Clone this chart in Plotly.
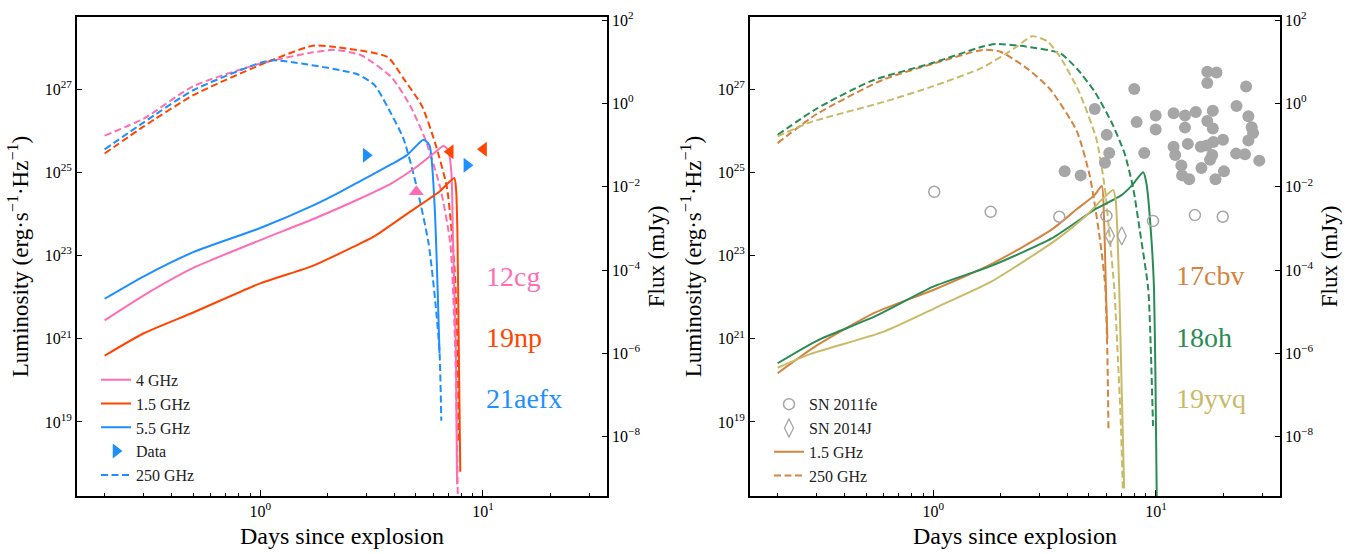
import numpy as np
import plotly.graph_objects as go

# ===================== LEFT PANEL DATA =====================
# SN 2012cg, 4 GHz (solid) and 250 GHz (dashed)
days_12cg_4ghz = [0.2, 0.3, 0.5, 1.0, 1.72, 2.84, 3.9, 5.1, 6.0, 6.65, 6.95, 7.21, 7.33, 7.46, 7.56, 7.65]
lum_12cg_4ghz = [2.75e21, 1.10e22, 5.01e22, 2.34e23, 7.41e23, 2.40e24, 5.50e24, 1.41e25, 2.82e25,
                 4.27e25, 3.55e25, 1.05e25, 2.82e23, 7.59e21, 5.01e20, 3.16e17]
days_12cg_250ghz = [0.2, 0.3, 0.5, 1.0, 1.72, 2.16, 2.84, 3.9, 4.72, 5.5, 6.43, 7.13, 7.51, 7.65, 7.72]
lum_12cg_250ghz = [7.59e25, 1.95e26, 1.17e27, 4.07e27, 7.59e27, 8.71e27, 6.46e27, 1.86e27, 3.89e26,
                   6.31e25, 4.27e24, 1.95e23, 5.01e20, 3.16e18, 1.0e17]

# SN 2019np, 1.5 GHz (solid) and 250 GHz (dashed)
days_19np_15ghz = [0.2, 0.3, 0.5, 1.0, 1.72, 2.6, 3.23, 4.56, 6.43, 7.43, 7.58, 7.68, 7.76, 7.84, 7.91]
lum_19np_15ghz = [3.89e20, 1.35e21, 4.27e21, 2.14e22, 5.62e22, 1.58e23, 2.82e23, 1.0e24, 3.55e24,
                  7.24e24, 3.55e24, 3.16e23, 3.16e21, 3.16e19, 6.31e17]
days_19np_250ghz = [0.2, 0.3, 0.5, 1.0, 1.72, 2.07, 3.72, 4.4, 5.32, 6.1, 6.89, 7.46, 7.69, 7.8]
lum_19np_250ghz = [2.82e25, 1.26e26, 7.08e26, 3.80e27, 1.10e28, 1.05e28, 5.89e27, 1.78e27, 3.89e26,
                   5.01e25, 4.27e24, 4.68e22, 5.01e20, 3.16e18]

# SN 2021aefx, 5.5 GHz (solid) and 250 GHz (dashed)
days_21aefx_55ghz = [0.2, 0.3, 0.5, 1.0, 1.72, 2.29, 2.84, 3.9, 4.56, 5.41, 5.75, 6.06, 6.38]
lum_21aefx_55ghz = [9.12e21, 3.16e22, 1.20e23, 4.57e23, 1.58e24, 3.39e24, 6.31e24, 1.58e25, 2.57e25,
                    6.03e25, 4.47e25, 1.74e24, 4.47e20]
days_21aefx_250ghz = [0.2, 0.3, 0.5, 1.0, 1.15, 2.71, 3.25, 3.71, 4.4, 5.05, 5.7, 6.11, 6.38, 6.5]
lum_21aefx_250ghz = [3.55e25, 1.58e26, 9.33e26, 4.27e27, 4.90e27, 2.29e27, 1.26e27, 3.89e26, 6.31e25,
                     4.27e24, 1.95e23, 7.59e21, 5.01e20, 1.07e19]

# Observed limits (left panel)
days_data_21aefx = [2.99, 8.47]
lum_data_21aefx = [2.57e25, 1.48e25]
days_data_19np = [7.13, 10.06]
lum_data_19np = [3.09e25, 3.55e25]
days_data_12cg = [5.02]
lum_data_12cg = [3.39e24]

# ===================== RIGHT PANEL DATA =====================
days_17cbv_15ghz = [0.2, 0.3, 0.55, 1.0, 1.82, 3.4, 4.43, 5.3, 5.71, 5.85, 5.96, 6.05]
lum_17cbv_15ghz = [1.48e20, 6.92e20, 4.27e21, 1.48e22, 6.17e22, 4.17e23, 1.32e24, 2.82e24, 4.68e24,
                   6.31e23, 1.58e22, 1.0e21]
days_17cbv_250ghz = [0.2, 0.3, 0.6, 1.0, 1.67, 1.99, 2.6, 3.34, 4.4, 5.05, 5.6, 5.92, 6.05, 6.12]
lum_17cbv_250ghz = [5.01e25, 2.51e26, 1.70e27, 4.07e27, 8.71e27, 7.94e27, 3.31e27, 1.0e27, 1.0e26,
                    7.94e24, 2.51e23, 1.78e22, 4.27e20, 6.31e18]

days_18oh_15ghz = [0.2, 0.3, 0.55, 1.0, 1.82, 3.4, 5.3, 6.0, 7.0, 7.73, 8.77, 9.08, 9.57, 9.8, 9.95, 10.09]
lum_18oh_15ghz = [2.57e20, 8.91e20, 3.47e21, 1.78e22, 5.62e22, 2.57e23, 1.26e24, 1.78e24, 2.82e24,
                  4.57e24, 1.0e25, 5.01e24, 1.95e23, 1.58e22, 1.0e20, 1.0e17]
days_18oh_250ghz = [0.2, 0.3, 0.525, 1.0, 1.67, 1.91, 2.6, 3.71, 4.43, 5.3, 6.33, 7.23, 7.9, 8.45, 9.23, 9.5, 9.7]
lum_18oh_250ghz = [7.94e25, 3.39e26, 1.55e27, 4.27e27, 1.05e28, 1.20e28, 1.05e28, 7.24e27, 3.02e27,
                   8.71e26, 1.55e26, 2.82e25, 4.17e24, 4.17e23, 1.58e22, 3.98e20, 7.94e18]

days_19yvq_15ghz = [0.2, 0.28, 0.6, 1.07, 1.82, 3.55, 4.84, 5.66, 6.43, 6.6, 6.84, 7.0, 7.2]
lum_19yvq_15ghz = [2.0e20, 4.27e20, 1.48e21, 6.17e21, 2.34e22, 2.34e23, 8.91e23, 2.09e24, 3.72e24,
                   2.0e24, 1.58e22, 1.0e20, 2.51e17]
days_19yvq_250ghz = [0.2, 0.28, 0.6, 1.0, 1.67, 2.38, 2.78, 3.25, 3.71, 4.5, 5.4, 5.9, 6.22, 6.5, 6.75, 6.95, 7.1]
lum_19yvq_250ghz = [7.24e25, 1.58e26, 4.90e26, 1.17e27, 3.31e27, 1.05e28, 1.86e28, 1.41e28, 5.89e27,
                    8.91e26, 6.31e25, 3.98e24, 2.24e23, 1.58e22, 3.16e20, 1.0e19, 2.51e17]

# SN 2011fe and SN 2014J limits
days_11fe = [1.01, 1.81, 3.68, 5.99, 9.7, 14.96, 19.95]
lum_11fe = [3.39e24, 1.12e24, 8.51e23, 8.91e23, 6.76e23, 9.33e23, 8.51e23]
days_14J = [6.21, 7.02]
lum_14J = [2.95e23, 2.95e23]

# Other SNe Ia limits (grey filled)
days_other = [3.89, 4.59, 5.31, 6.01, 6.17, 5.90, 7.99, 8.19, 8.86, 9.97, 9.97, 12.0, 13.5, 15.1, 13.5,
              12.0, 12.2, 13.0, 13.1, 14.1, 13.9, 15.9, 16.0, 17.0, 18.7, 17.0, 17.0, 18.0, 18.0, 16.9,
              18.1, 20.0, 17.9, 17.5, 20.2, 18.5, 23.0, 25.4, 26.0, 26.9, 27.3, 26.0, 22.9, 25.1, 29.1]
lum_other = [1.05e25, 8.4e24, 3.3e26, 7.9e25, 2.9e25, 1.7e25, 1.0e27, 1.6e26, 2.9e25, 2.3e26, 1.07e26,
             2.6e26, 2.3e26, 2.8e26, 1.18e26, 4.1e25, 2.6e25, 1.45e25, 8.4e24, 6.8e24, 4.8e25, 4.1e25,
             1.26e25, 2.6e27, 2.5e27, 1.4e27, 1.7e26, 3.0e26, 1.13e26, 4.4e25, 5.3e25, 6.0e25, 2.6e25,
             2.0e25, 1.05e25, 6.8e24, 3.9e26, 1.15e27, 2.2e26, 1.2e26, 8.8e25, 5.8e25, 2.8e25, 2.7e25,
             1.9e25]

THRESHOLD_LUM = 1e27
# log10(L / F[mJy]) for the assumed distance
LUM_TO_FLUX_LOG = 26.65

y_tickvals = [1e19, 1e21, 1e23, 1e25, 1e27]
y_ticktext = ['10<sup>19</sup>', '10<sup>21</sup>', '10<sup>23</sup>', '10<sup>25</sup>', '10<sup>27</sup>']
flux_tickvals = [1e-8, 1e-6, 1e-4, 1e-2, 1e0, 1e2]
flux_ticktext = ['10<sup>\u22128</sup>', '10<sup>\u22126</sup>', '10<sup>\u22124</sup>',
                 '10<sup>\u22122</sup>', '10<sup>0</sup>', '10<sup>2</sup>']
x_tickvals = [1, 10]
x_ticktext = ['10<sup>0</sup>', '10<sup>1</sup>']
x_minor = [0.2, 0.3, 0.4, 0.5, 0.6, 0.7, 0.8, 0.9, 2, 3, 4, 5, 6, 7, 8, 9, 20, 30]

# colours
C_12CG = '#FF6EB4'
C_19NP = '#FF4500'
C_21AEFX = '#1E8FFF'
C_17CBV = '#D4843E'
C_18OH = '#2A8C55'
C_19YVQ = '#C9BA68'
C_GREY = '#A6A6A6'

FONT = "'Liberation Serif', 'Times New Roman', Times, serif"
LW = 2.0
DASH = '7px,3.5px'

fig = go.Figure()


def line(x, y, color, dash, xa, ya, name=None, legend='legend', rank=1000, show=False):
    fig.add_trace(go.Scatter(
        x=x, y=y, mode='lines', xaxis=xa, yaxis=ya,
        line=dict(color=color, width=LW, dash=DASH if dash else 'solid', shape='spline', smoothing=0.6),
        name=name, showlegend=show, legend=legend, legendrank=rank, hoverinfo='skip'))


# ---- left panel ----
line(days_12cg_250ghz, lum_12cg_250ghz, C_12CG, True, 'x', 'y')
line(days_19np_250ghz, lum_19np_250ghz, C_19NP, True, 'x', 'y')
line(days_21aefx_250ghz, lum_21aefx_250ghz, C_21AEFX, True, 'x', 'y', '250 GHz', 'legend', 5, True)
line(days_21aefx_55ghz, lum_21aefx_55ghz, C_21AEFX, False, 'x', 'y', '5.5 GHz', 'legend', 3, True)
line(days_12cg_4ghz, lum_12cg_4ghz, C_12CG, False, 'x', 'y', '4 GHz', 'legend', 1, True)
line(days_19np_15ghz, lum_19np_15ghz, C_19NP, False, 'x', 'y', '1.5 GHz', 'legend', 2, True)

fig.add_trace(go.Scatter(x=days_data_21aefx, y=lum_data_21aefx, mode='markers', xaxis='x', yaxis='y',
                         marker=dict(symbol='triangle-right', size=13, color=C_21AEFX),
                         name='Data', showlegend=True, legend='legend', legendrank=4, hoverinfo='skip'))
fig.add_trace(go.Scatter(x=days_data_19np, y=lum_data_19np, mode='markers', xaxis='x', yaxis='y',
                         marker=dict(symbol='triangle-left', size=13, color=C_19NP),
                         showlegend=False, hoverinfo='skip'))
fig.add_trace(go.Scatter(x=days_data_12cg, y=lum_data_12cg, mode='markers', xaxis='x', yaxis='y',
                         marker=dict(symbol='triangle-up', size=13, color=C_12CG),
                         showlegend=False, hoverinfo='skip'))

# ---- right panel ----
line(days_17cbv_250ghz, lum_17cbv_250ghz, C_17CBV, True, 'x2', 'y3', '250 GHz', 'legend2', 4, True)
line(days_18oh_250ghz, lum_18oh_250ghz, C_18OH, True, 'x2', 'y3')
line(days_19yvq_250ghz, lum_19yvq_250ghz, C_19YVQ, True, 'x2', 'y3')
line(days_17cbv_15ghz, lum_17cbv_15ghz, C_17CBV, False, 'x2', 'y3', '1.5 GHz', 'legend2', 3, True)
line(days_18oh_15ghz, lum_18oh_15ghz, C_18OH, False, 'x2', 'y3')
line(days_19yvq_15ghz, lum_19yvq_15ghz, C_19YVQ, False, 'x2', 'y3')

fig.add_trace(go.Scatter(x=days_other, y=lum_other, mode='markers', xaxis='x2', yaxis='y3',
                         marker=dict(symbol='circle', size=12, color=C_GREY),
                         showlegend=False, hoverinfo='skip'))
fig.add_trace(go.Scatter(x=days_11fe, y=lum_11fe, mode='markers', xaxis='x2', yaxis='y3',
                         marker=dict(symbol='circle-open', size=11, color=C_GREY, line=dict(width=1.5)),
                         name='SN 2011fe', showlegend=True, legend='legend2', legendrank=1, hoverinfo='skip'))
fig.add_trace(go.Scatter(x=days_14J, y=lum_14J, mode='markers', xaxis='x2', yaxis='y3',
                         marker=dict(symbol='diamond-tall-open', size=13, color=C_GREY, line=dict(width=1.3)),
                         name='SN 2014J', showlegend=True, legend='legend2', legendrank=2, hoverinfo='skip'))

# empty traces so the flux axes are drawn
fig.add_trace(go.Scatter(x=[], y=[], xaxis='x', yaxis='y2', showlegend=False, hoverinfo='skip'))
fig.add_trace(go.Scatter(x=[], y=[], xaxis='x2', yaxis='y4', showlegend=False, hoverinfo='skip'))

W, H = 1357, 554
ML, MR, MT, MB = 77, 77, 9, 56
PW = W - ML - MR
left_dom = [0, 530 / PW]
right_dom = [(750 - ML) / PW, 1]

LUM_RANGE = [17.22, 28.73]
FLUX_RANGE = [LUM_RANGE[0] - LUM_TO_FLUX_LOG, LUM_RANGE[1] - LUM_TO_FLUX_LOG]
X_RANGE = [-0.823, 1.557]

tickfont = dict(family=FONT, size=16, color='black')
titlefont = dict(family=FONT, size=24, color='black')
ytitlefont = dict(family=FONT, size=23, color='black')


def xaxis(dom, anchor):
    return dict(domain=dom, anchor=anchor, type='log', range=X_RANGE,
                tickmode='array', tickvals=x_tickvals, ticktext=x_ticktext,
                ticks='inside', ticklen=6, tickwidth=1.3, tickcolor='black',
                minor=dict(tickmode='array', tickvals=x_minor, ticks='inside', ticklen=3,
                           tickwidth=1, tickcolor='black', showgrid=False),
                showline=True, linecolor='black', linewidth=1.8, mirror=True,
                showgrid=False, zeroline=False, tickfont=tickfont,
                title=dict(text='Days since explosion', font=titlefont, standoff=8))


def yaxis(anchor):
    return dict(domain=[0, 1], anchor=anchor, type='log', range=LUM_RANGE,
                tickmode='array', tickvals=y_tickvals, ticktext=y_ticktext,
                ticks='inside', ticklen=5, tickwidth=1.3, tickcolor='black',
                showline=True, linecolor='black', linewidth=1.8, mirror=False,
                showgrid=False, zeroline=False, tickfont=tickfont,
                title=dict(text='Luminosity (erg\u00b7s<sup>\u22121</sup>\u00b7Hz<sup>\u22121</sup>)',
                           font=ytitlefont, standoff=10))


def faxis(over, anchor):
    return dict(overlaying=over, anchor=anchor, side='right', type='log', range=FLUX_RANGE,
                tickmode='array', tickvals=flux_tickvals, ticktext=flux_ticktext,
                ticks='inside', ticklen=5, tickwidth=1.3, tickcolor='black',
                showline=True, linecolor='black', linewidth=1.8,
                showgrid=False, zeroline=False, tickfont=tickfont,
                title=dict(text='Flux (mJy)', font=ytitlefont, standoff=8))


fig.update_layout(
    width=W, height=H, autosize=False,
    margin=dict(l=ML, r=MR, t=MT, b=MB, pad=0),
    paper_bgcolor='white', plot_bgcolor='white',
    font=dict(family=FONT, color='black'),
    xaxis=xaxis(left_dom, 'y'),
    yaxis=yaxis('x'),
    yaxis2=faxis('y', 'x'),
    xaxis2=xaxis(right_dom, 'y3'),
    yaxis3=yaxis('x2'),
    yaxis4=faxis('y3', 'x2'),
    legend=dict(x=(96 - ML) / PW, y=1 - (362 - MT) / (H - MT - MB), xanchor='left', yanchor='top',
                bgcolor='rgba(0,0,0,0)', font=dict(family=FONT, size=16, color='#222'),
                tracegroupgap=0, itemsizing='trace'),
    legend2=dict(x=(769 - ML) / PW, y=1 - (387 - MT) / (H - MT - MB), xanchor='left', yanchor='top',
                 bgcolor='rgba(0,0,0,0)', font=dict(family=FONT, size=16, color='#222'),
                 tracegroupgap=0, itemsizing='trace'),
    showlegend=True,
)

# horizontal dotted threshold line at L = 1e27 in each panel
for xr, yr in (('x domain', 'y'), ('x2 domain', 'y3')):
    fig.add_shape(type='line', xref=xr, yref=yr, x0=0, x1=1,
                  y0=np.log10(THRESHOLD_LUM), y1=np.log10(THRESHOLD_LUM),
                  line=dict(color='black', width=2.5, dash='2.5px,3.5px'))

# SN labels
labels_left = [('12cg', C_12CG, 0.4574), ('19np', C_19NP, 0.3299), ('21aefx', C_21AEFX, 0.2033)]
for txt, col, yy in labels_left:
    fig.add_annotation(xref='x domain', yref='y domain', x=(484 - 76.7) / 530, y=yy, text=txt,
                       showarrow=False, xanchor='left', yanchor='middle',
                       font=dict(family=FONT, size=28, color=col))
labels_right = [('17cbv', C_17CBV, 0.4594), ('18oh', C_18OH, 0.3299), ('19yvq', C_19YVQ, 0.2033)]
for txt, col, yy in labels_right:
    fig.add_annotation(xref='x2 domain', yref='y3 domain', x=(1173.5 - 750) / 530, y=yy, text=txt,
                       showarrow=False, xanchor='left', yanchor='middle',
                       font=dict(family=FONT, size=28, color=col))

fig.write_html('out.html')
